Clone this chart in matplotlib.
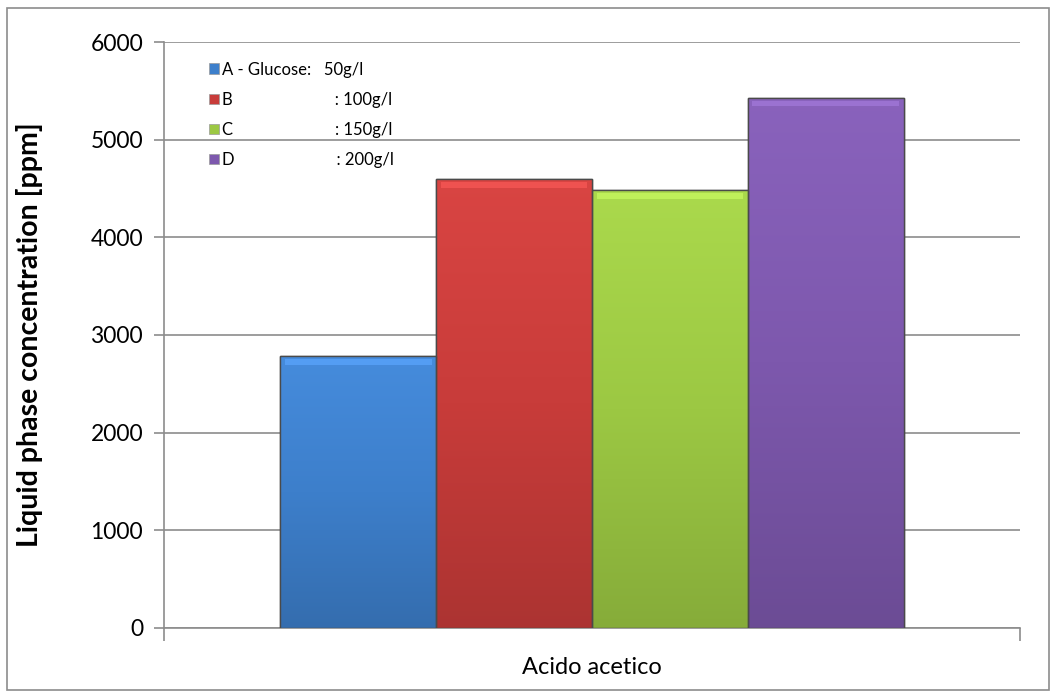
import matplotlib
matplotlib.use("Agg")
import matplotlib.pyplot as plt
import numpy as np
from matplotlib.patches import Patch, Rectangle
from matplotlib.colors import LinearSegmentedColormap, to_rgb

# Data
category = "Acido acetico"
series_labels = [
    "A - Glucose:   50g/l",
    "B                        : 100g/l",
    "C                        : 150g/l",
    "D                        : 200g/l",
]
values = [2780, 4600, 4480, 5430]
colors = ["#3d7fcb", "#c83c3a", "#9cc843", "#7d58ad"]
y_ticks = [0, 1000, 2000, 3000, 4000, 5000, 6000]

plt.rcParams["font.family"] = ["Lato", "DejaVu Sans"]

fig = plt.figure(figsize=(10.53, 6.92), dpi=100)
ax = fig.add_axes([0.1557, 0.0925, 0.8130, 0.8468])

# outer chart-area frame
fig.patches.append(Rectangle((0.0066, 0.003), 0.9895, 0.9855, transform=fig.transFigure,
                             fill=False, edgecolor="#8c8c8c", linewidth=1.2))

n = len(values)
bar_w = 0.182
x0 = 0.5 - n * bar_w / 2
for i, (v, c) in enumerate(zip(values, colors)):
    left = x0 + i * bar_w
    base = np.array(to_rgb(c))
    light = np.clip(base * 1.06 + 0.02, 0, 1)
    dark = base * 0.86
    cmap = LinearSegmentedColormap.from_list(f"g{i}", [dark, base, light])
    grad = np.linspace(0, 1, 256).reshape(-1, 1)
    rect = Rectangle((left, 0), bar_w, v, facecolor=c, edgecolor="#4a4a4a",
                     linewidth=1.0, zorder=3)
    ax.add_patch(rect)
    im = ax.imshow(grad, extent=[left, left + bar_w, 0, v], origin="lower",
                   cmap=cmap, aspect="auto", zorder=3.1)
    im.set_clip_path(rect)
    # light bevel along the top edge
    ax.add_patch(Rectangle((left + bar_w * 0.03, v - 90), bar_w * 0.94, 60,
                           facecolor=np.clip(base * 1.15 + 0.08, 0, 1), edgecolor="none",
                           alpha=0.7, zorder=3.15))
    ax.add_patch(Rectangle((left, 0), bar_w, v, fill=False, edgecolor="#4a4a4a",
                           linewidth=1.0, zorder=3.2))

ax.set_xlim(0, 1)
ax.set_ylim(0, 6000)
ax.set_yticks(y_ticks)
ax.set_yticklabels([str(t) for t in y_ticks], fontsize=16.5)
ax.set_xticks([0, 1])
ax.set_xticklabels(["", ""])
ax.tick_params(axis="y", length=7, width=1.2, color="#8c8c8c", pad=8)
ax.tick_params(axis="x", length=9, width=1.2, color="#8c8c8c")
ax.text(0.5, -0.05, category, transform=ax.transAxes, ha="center", va="top", fontsize=17)

ax.yaxis.grid(True, color="#8c8c8c", linewidth=1.2, zorder=0)
ax.set_axisbelow(True)
for s in ["top", "right"]:
    ax.spines[s].set_visible(False)
for s in ["left", "bottom"]:
    ax.spines[s].set_color("#8c8c8c")
    ax.spines[s].set_linewidth(1.2)

ax.set_ylabel("Liquid phase concentration [ppm]", fontsize=20.5, fontweight="bold")
ax.yaxis.set_label_coords(-0.1415, 0.5)

handles = [Patch(facecolor=c, edgecolor="#9a9a9a", linewidth=0.5) for c in colors]
ax.legend(handles, series_labels, loc="upper left", bbox_to_anchor=(0.045, 0.978),
          frameon=False, fontsize=12, handlelength=0.6, handleheight=0.6,
          handletextpad=0.2, labelspacing=0.85, borderaxespad=0)

fig.savefig("out.png", dpi=100)
